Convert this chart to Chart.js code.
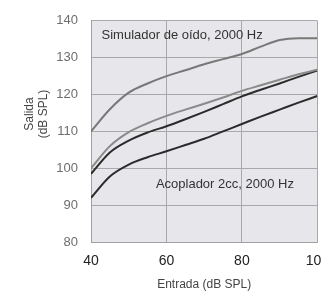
<!DOCTYPE html>
<html><head><meta charset="utf-8">
<script src="https://cdn.jsdelivr.net/npm/chart.js@4.4.1/dist/chart.umd.min.js"></script>
<style>
html,body{margin:0;padding:0;background:#fff;overflow:hidden;width:321px;height:297px;}
#wrap{width:340px;height:297px;position:absolute;left:0;top:0;}
</style></head><body>
<div id="wrap"><canvas id="c" width="340" height="297"></canvas></div>
<script>
const inputLevels = [40, 45, 50, 55, 60, 65, 70, 75, 80, 85, 90, 95, 100];
const simuladorA = [110, 116, 120.5, 123, 125, 126.6, 128.2, 129.6, 131, 133, 134.8, 135.3, 135.3];
const simuladorB = [100, 106, 109.8, 112.2, 114.2, 115.9, 117.5, 119.2, 121, 122.5, 124, 125.5, 126.7];
const acopladorA = [98.5, 104.3, 107.5, 109.7, 111.4, 113.3, 115.3, 117.4, 119.5, 121.3, 123, 124.8, 126.5];
const acopladorB = [92, 97.8, 101, 103, 104.6, 106.3, 108, 110, 112, 114, 115.9, 117.8, 119.6];
const yTicks = [80, 90, 100, 110, 120, 130, 140];
const xTicks = [40, 60, 80, 100];

function ds(vals, color){
  return {data: inputLevels.map((x,i)=>({x:x,y:vals[i]})), borderColor: color, borderWidth: 2,
    pointRadius: 0, tension: 0.4, cubicInterpolationMode: 'monotone', fill: false};
}

const bgPlugin = {
  id: 'bg',
  beforeDraw(chart){
    const {ctx, chartArea:a} = chart;
    ctx.save(); ctx.fillStyle = '#e7e7eb';
    ctx.fillRect(a.left, a.top, a.right - a.left, a.bottom - a.top);
    ctx.restore();
  },
  afterDraw(chart){
    const ctx = chart.ctx, xs = chart.scales.x, ys = chart.scales.y, a = chart.chartArea;
    ctx.save();
    ctx.fillStyle = '#333';
    ctx.font = '13px "Liberation Sans", Arial, sans-serif';
    ctx.textBaseline = 'middle';
    ctx.textAlign = 'left';
    ctx.fillText('Simulador de oído, 2000 Hz', xs.getPixelForValue(42.8), ys.getPixelForValue(135.9));
    ctx.fillText('Acoplador 2cc, 2000 Hz', xs.getPixelForValue(57.2), ys.getPixelForValue(95.5));
    ctx.fillStyle = '#444';
    ctx.font = '12px "Liberation Sans", Arial, sans-serif';
    ctx.textAlign = 'center';
    ctx.fillText('Entrada (dB SPL)', (a.left + a.right) / 2, 285);
    ctx.translate(37, 114);
    ctx.rotate(-Math.PI / 2);
    ctx.fillText('Salida', 0, -7);
    ctx.fillText('(dB SPL)', 0, 7);
    ctx.restore();
  }
};

new Chart(document.getElementById('c'), {
  type: 'line',
  data: { datasets: [
    ds(simuladorA, '#787878'),
    ds(simuladorB, '#8a8a8a'),
    ds(acopladorA, '#2b2b2b'),
    ds(acopladorB, '#2b2b2b')
  ]},
  options: {
    responsive: false, animation: false,
    layout: { padding: { top: 15, right: 21, left: 0, bottom: 0 } },
    plugins: { legend: {display:false}, tooltip: {enabled:false} },
    scales: {
      x: { type: 'linear', min: 40, max: 100,
        afterBuildTicks(s){ s.ticks = xTicks.map(v=>({value:v})); },
        afterFit(s){ s.height = 55; },
        grid: { color: '#a9a9a9', lineWidth: 1, drawTicks: false },
        border: { color: '#a0a0a0' },
        ticks: { padding: 11, color: '#222', font: { size: 14, family: '"Liberation Sans", Arial, sans-serif' }, maxRotation: 0 }
      },
      y: { min: 80, max: 140,
        afterBuildTicks(s){ s.ticks = yTicks.map(v=>({value:v})); },
        afterFit(s){ s.width = 91; },
        grid: { color: '#a9a9a9', lineWidth: 1, drawTicks: false },
        border: { color: '#a0a0a0' },
        ticks: { padding: 13, color: '#6e6e6e', font: { size: 13, family: '"Liberation Sans", Arial, sans-serif' } }
      }
    }
  },
  plugins: [bgPlugin]
});
</script></body></html>
